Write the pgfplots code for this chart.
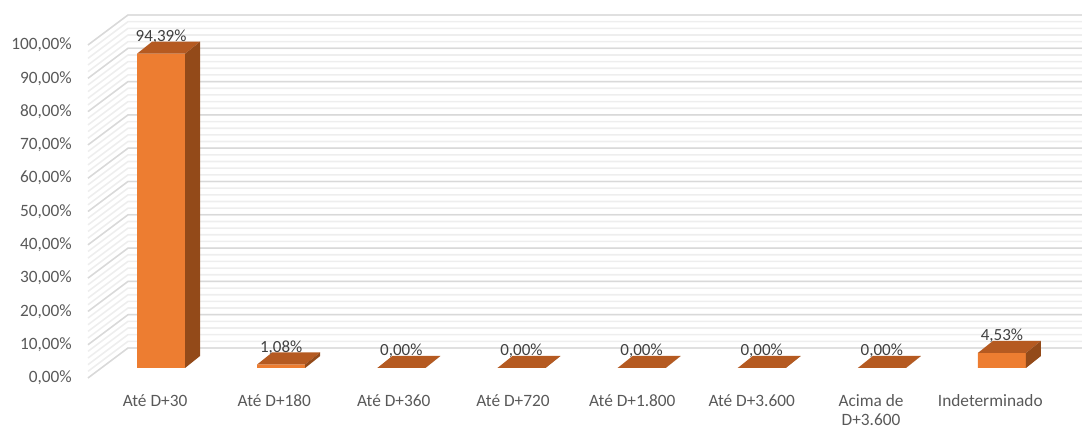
\documentclass[border=0pt]{standalone}
\usepackage{pgfplots}
\pgfplotsset{compat=1.18}
\usepackage{pgfplotstable}
\usepackage{fontspec}
\setmainfont{Carlito}

\definecolor{barfront}{HTML}{ED7D31}
\definecolor{bartop}{HTML}{B55A21}
\definecolor{barside}{HTML}{934A19}
\definecolor{majgrid}{HTML}{D9D9D9}
\definecolor{mingrid}{HTML}{EEEEEE}
\definecolor{ticktext}{HTML}{595959}
\definecolor{labeltext}{HTML}{404040}

\pgfplotstableread{
x  val
0  94.39
1  1.08
2  0
3  0
4  0
5  0
6  0
7  4.53
}\prazos

% top and right faces of the 3D column (front face is the ybar itself)
\newdimen\barh
\pgfdeclareplotmark{prism}{%
  \pgfmathsetlength{\barh}{\val*3.33pt}%
  \pgfsetfillcolor{bartop}%
  \pgfpathmoveto{\pgfqpoint{-24pt}{0pt}}%
  \pgfpathlineto{\pgfqpoint{24pt}{0pt}}%
  \pgfpathlineto{\pgfqpoint{39pt}{12pt}}%
  \pgfpathlineto{\pgfqpoint{-9pt}{12pt}}%
  \pgfpathclose
  \pgfusepath{fill}%
  \pgfsetfillcolor{barside}%
  \pgfpathmoveto{\pgfqpoint{24pt}{0pt}}%
  \pgfpathlineto{\pgfqpoint{39pt}{12pt}}%
  \pgfpathlineto{\pgfpoint{39pt}{12pt-\barh}}%
  \pgfpathlineto{\pgfpoint{24pt}{-\barh}}%
  \pgfpathclose
  \pgfusepath{fill}%
}

\newcommand{\pct}[1]{\pgfmathprintnumber[fixed,fixed zerofill,precision=2,use comma,assume math mode=true]{#1}\%}

\begin{document}
\begin{tikzpicture}
\useasboundingbox (0pt,0pt) rectangle (1082pt,428pt);
\begin{axis}[
    at={(101pt,60pt)}, anchor=south west,
    scale only axis, width=961pt, height=333pt,
    xmin=-0.5, xmax=7.5, ymin=0, ymax=100,
    clip=false,
    axis line style={draw=none},
    tick style={draw=none},
    ytick={0,10,...,100},
    yticklabel={\pct{\tick}},
    yticklabel style={anchor=east, inner sep=0pt, xshift=-29pt, yshift=-10pt},
    % category labels sit at mid depth, a little left of the bar fronts
    xtick={-0.05,0.943,1.937,2.930,3.923,4.917,5.910,6.903},
    xticklabels={Até D+30, Até D+180, Até D+360, Até D+720, Até D+1.800, Até D+3.600, {Acima de\\D+3.600}, Indeterminado},
    xticklabel style={align=center, anchor=north, inner sep=0pt, yshift=-26pt},
    tick label style={font=\fontsize{17.3}{19.2}\selectfont, text=ticktext},
]
% walls: left side and back, minor lines every 2%, major every 10%
\pgfplotsinvokeforeach{0,2,...,100}{
  \draw[mingrid, line width=1.6pt] ([shift={(-13pt,-10pt)}]axis cs:-0.5,#1) -- ([shift={(27pt,20pt)}]axis cs:-0.5,#1) -- ([shift={(27pt,20pt)}]axis cs:7.5,#1);
}
\pgfplotsinvokeforeach{0,10,...,100}{
  \draw[majgrid, line width=1.4pt] ([shift={(-13pt,-10pt)}]axis cs:-0.5,#1) -- ([shift={(27pt,20pt)}]axis cs:-0.5,#1) -- ([shift={(27pt,20pt)}]axis cs:7.5,#1);
}
\addplot[ybar, bar width=48pt, fill=barfront, draw=none,
    point meta=y,
    nodes near coords={\pct{\pgfplotspointmeta}},
    nodes near coords style={anchor=base, yshift=12pt, inner sep=0pt,
        font=\fontsize{17}{20}\selectfont, text=labeltext}]
    table[x=x, y=val] {\prazos};
\addplot[only marks, mark=prism, visualization depends on={rawy \as \val}]
    table[x=x, y=val] {\prazos};
\end{axis}
\end{tikzpicture}
\end{document}
